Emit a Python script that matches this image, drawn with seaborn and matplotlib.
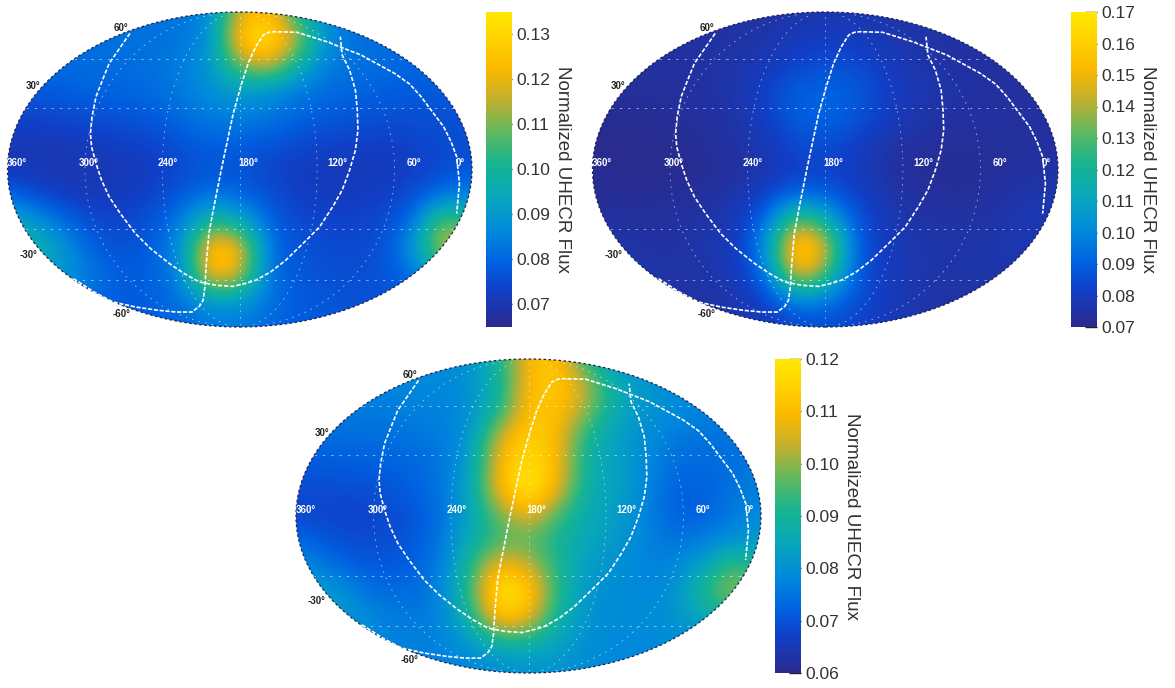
import numpy as np
import matplotlib
matplotlib.use("Agg")
import matplotlib.pyplot as plt
from matplotlib.patches import Ellipse
import seaborn as sns

#-------------------------------------------------------------------------------
#   values
#-------------------------------------------------------------------------------
parula_stops = [(0.0, "#2b2a8c"), (0.12, "#1040c8"), (0.2, "#0060e0"), (0.3, "#0088dc"),
                (0.42, "#08a8b8"), (0.52, "#18b490"), (0.62, "#60b860"), (0.72, "#c0b030"),
                (0.82, "#fbb800"), (0.92, "#ffd400"), (1.0, "#ffe800")]

lon_labels = ["360°", "300°", "240°", "180°", "120°", "60°", "0°"]
lon_label_x = [-0.96, -0.65, -0.31, 0.035, 0.42, 0.75, 0.95]
lat_labels = ["60°", "30°", "-30°", "-60°"]
lat_label_x = [-0.51, -0.89, -0.91, -0.51]
lat_label_y = [0.90, 0.53, -0.54, -0.92]

meridian_fracs = [-2/3, -1/3, 0, 1/3, 2/3]
parallel_y = [0.39, 0.70, -0.38, -0.70]

plane_x = [-0.716, -0.627, -0.546, -0.449, -0.352, -0.271, -0.206, -0.174, -0.158, -0.150, -0.145,
           -0.133, -0.117, -0.077, -0.028, 0.004, 0.036, 0.069, 0.101, 0.125, 0.150, 0.247, 0.376,
           0.522, 0.667, 0.732, 0.781, 0.878, 0.910, 0.934, 0.946, 0.934]
plane_y = [-0.693, -0.778, -0.841, -0.873, -0.894, -0.905, -0.905, -0.869, -0.831, -0.746, -0.619,
           -0.407, -0.280, 0.017, 0.356, 0.525, 0.674, 0.780, 0.854, 0.871, 0.875, 0.871, 0.811,
           0.727, 0.610, 0.542, 0.462, 0.271, 0.176, 0.081, -0.089, -0.280]

loop_x = [-0.473, -0.562, -0.591, -0.619, -0.636, -0.643, -0.638, -0.619, -0.595, -0.562, -0.514,
          -0.449, -0.384, -0.303, -0.239, -0.174, -0.101, -0.028, 0.020, 0.069, 0.133, 0.198, 0.279,
          0.344, 0.400, 0.441, 0.473, 0.498, 0.509, 0.506, 0.498, 0.473, 0.441, 0.433]
loop_y = [0.864, 0.674, 0.568, 0.462, 0.335, 0.229, 0.144, 0.038, -0.068, -0.174, -0.280,
          -0.407, -0.502, -0.597, -0.661, -0.714, -0.735, -0.742, -0.725, -0.703, -0.650, -0.576, -0.460,
          -0.364, -0.237, -0.131, -0.004, 0.123, 0.250, 0.377, 0.504, 0.631, 0.727, 0.843]

flux_a = [
    [.082, .082, .082, .082, .082, .082, .082, .086, .118, .125, .097, .085, .082, .082, .082, .082, .082],
    [.082, .082, .082, .082, .082, .082, .083, .087, .130, .135, .115, .086, .082, .081, .081, .081, .081],
    [.081, .081, .081, .081, .081, .082, .084, .089, .112, .121, .098, .084, .082, .081, .080, .080, .080],
    [.078, .078, .079, .080, .080, .081, .084, .088, .091, .088, .083, .081, .080, .079, .078, .078, .078],
    [.074, .074, .075, .076, .077, .078, .081, .084, .085, .083, .080, .078, .077, .076, .076, .076, .077],
    [.071, .071, .071, .072, .073, .074, .077, .079, .079, .077, .075, .074, .073, .073, .074, .075, .076],
    [.071, .070, .070, .070, .071, .072, .075, .077, .076, .074, .072, .071, .071, .071, .073, .075, .077],
    [.080, .075, .072, .071, .072, .074, .078, .082, .080, .076, .073, .072, .072, .073, .076, .082, .085],
    [.096, .090, .080, .075, .074, .077, .084, .103, .095, .079, .075, .074, .074, .075, .082, .114, .100],
    [.100, .098, .088, .078, .076, .079, .087, .131, .124, .080, .077, .075, .075, .076, .090, .122, .105],
    [.094, .094, .090, .082, .078, .079, .085, .128, .118, .080, .078, .076, .076, .077, .081, .095, .092],
    [.087, .087, .084, .080, .078, .079, .082, .090, .090, .082, .078, .077, .076, .076, .077, .078, .080],
    [.082, .082, .082, .080, .079, .078, .080, .083, .083, .080, .078, .078, .077, .077, .077, .078, .078],
]
flux_b = [
    [.075, .075, .075, .075, .075, .075, .075, .076, .077, .077, .076, .075, .075, .075, .075, .075, .075],
    [.075, .075, .075, .075, .075, .075, .076, .079, .080, .080, .078, .076, .075, .075, .075, .075, .075],
    [.074, .074, .074, .074, .075, .076, .079, .083, .086, .085, .080, .077, .075, .074, .074, .074, .074],
    [.073, .073, .073, .074, .075, .077, .083, .090, .091, .090, .082, .078, .076, .075, .074, .074, .074],
    [.072, .072, .072, .073, .074, .076, .082, .090, .092, .088, .081, .077, .075, .074, .074, .074, .074],
    [.071, .071, .071, .072, .073, .075, .079, .085, .086, .082, .077, .074, .073, .073, .073, .074, .074],
    [.071, .071, .071, .071, .072, .074, .077, .081, .082, .080, .075, .072, .072, .072, .073, .074, .075],
    [.072, .072, .072, .073, .074, .077, .083, .092, .090, .083, .077, .074, .073, .073, .075, .077, .077],
    [.075, .074, .074, .074, .076, .079, .094, .140, .118, .088, .079, .076, .075, .075, .076, .078, .078],
    [.076, .076, .075, .075, .077, .080, .105, .172, .150, .090, .080, .077, .076, .076, .077, .078, .078],
    [.076, .076, .076, .075, .076, .079, .094, .155, .130, .088, .080, .077, .076, .076, .076, .077, .077],
    [.075, .075, .075, .075, .075, .077, .083, .098, .095, .087, .080, .077, .075, .075, .075, .075, .075],
    [.075, .075, .075, .075, .075, .076, .079, .083, .085, .082, .079, .077, .075, .075, .075, .075, .075],
]
flux_c = [
    [.078, .078, .078, .078, .078, .079, .080, .090, .110, .113, .090, .082, .080, .078, .078, .078, .078],
    [.077, .077, .077, .078, .078, .078, .080, .088, .111, .114, .104, .086, .081, .079, .078, .078, .077],
    [.076, .076, .076, .076, .077, .077, .079, .091, .112, .112, .100, .086, .081, .079, .077, .076, .076],
    [.073, .074, .074, .074, .075, .076, .080, .106, .115, .110, .090, .083, .079, .076, .075, .075, .076],
    [.071, .071, .072, .072, .073, .075, .082, .110, .119, .110, .088, .084, .079, .074, .073, .074, .076],
    [.069, .069, .069, .070, .072, .075, .084, .110, .122, .108, .087, .084, .078, .072, .072, .075, .077],
    [.068, .068, .067, .068, .070, .074, .084, .097, .108, .094, .086, .083, .078, .072, .072, .076, .079],
    [.074, .071, .069, .069, .071, .075, .087, .095, .096, .090, .085, .082, .077, .075, .077, .080, .082],
    [.080, .076, .072, .071, .072, .076, .092, .113, .106, .092, .082, .080, .077, .078, .084, .098, .092],
    [.086, .083, .078, .074, .074, .077, .094, .122, .116, .092, .081, .079, .078, .080, .092, .102, .092],
    [.085, .085, .080, .077, .076, .077, .088, .112, .107, .088, .080, .079, .079, .080, .083, .087, .085],
    [.080, .080, .080, .078, .077, .077, .080, .085, .086, .083, .080, .078, .078, .079, .080, .080, .080],
    [.078, .078, .078, .078, .077, .077, .078, .079, .080, .080, .079, .078, .078, .078, .078, .078, .078],
]

ticks_a = [0.07, 0.08, 0.09, 0.10, 0.11, 0.12, 0.13]
ticks_b = [0.07, 0.08, 0.09, 0.10, 0.11, 0.12, 0.13, 0.14, 0.15, 0.16, 0.17]
ticks_c = [0.06, 0.07, 0.08, 0.09, 0.10, 0.11, 0.12]
range_a = (0.0649, 0.1349)
range_b = (0.07, 0.17)
range_c = (0.06, 0.12)

W, H = 1175, 688


def px_axes(fig, left, top, right, bottom):
    # axes placed with picture pixels
    return fig.add_axes([left/W, 1 - bottom/H, (right - left)/W, (bottom - top)/H])


def draw_panel(fig, flux, vrange, ticks, map_box, bar_box, cmap):
    ax = px_axes(fig, *map_box)
    grid = np.array(flux)
    dx = 2 / (grid.shape[1] - 1)
    dy = 2 / (grid.shape[0] - 1)
    im = ax.imshow(grid, cmap=cmap, vmin=vrange[0], vmax=vrange[1], aspect="auto",
                   interpolation="bicubic",
                   extent=[-1 - dx/2, 1 + dx/2, -1 - dy/2, 1 + dy/2])
    outline = Ellipse((0, 0), 2, 2, transform=ax.transData, fc="none", ec="none")
    ax.add_patch(outline)
    im.set_clip_path(outline)

    # grid of the sky map
    t = np.linspace(-0.985, 0.985, 90)
    for frac in meridian_fracs:
        ax.plot(frac*np.sqrt(1 - t**2), t, color="white", lw=0.6, ls=(0, (2, 6)), alpha=0.6)
    for y0 in parallel_y:
        half = np.sqrt(1 - y0**2)
        ax.plot([-half, half], [y0, y0], color="white", lw=0.6, ls=(0, (3, 7)), alpha=0.6)

    sns.lineplot(x=plane_x, y=plane_y, sort=False, estimator=None, color="white",
                 lw=1.2, ls=(0, (2.5, 1)), ax=ax)
    sns.lineplot(x=loop_x, y=loop_y, sort=False, estimator=None, color="white",
                 lw=1.2, ls=(0, (2.5, 1.2)), ax=ax)

    ax.add_patch(Ellipse((0, 0), 2, 2, fc="none", ec="#20204a", lw=0.9, ls=(0, (2, 2)), clip_on=False))

    for lab, xp in zip(lon_labels, lon_label_x):
        ax.text(xp, 0.04, lab, color="white", fontsize=7, ha="center", va="center", fontweight="bold")
    for lab, xp, yp in zip(lat_labels, lat_label_x, lat_label_y):
        ax.text(xp, yp, lab, color="#222222", fontsize=7, ha="center", va="center", fontweight="bold")

    ax.set_xlim(-1, 1)
    ax.set_ylim(-1, 1)
    ax.axis("off")

    cax = px_axes(fig, *bar_box)
    cb = fig.colorbar(im, cax=cax, ticks=ticks)
    cb.outline.set_visible(False)
    cb.ax.set_yticklabels(["{:.2f}".format(v) for v in ticks])
    cb.ax.tick_params(direction="in", length=9, width=1.0, color="#222222", labelsize=12.5,
                      labelcolor="#333333", pad=3, right=True, left=False)
    cb.set_label("Normalized UHECR Flux", rotation=270, fontsize=13.5, color="#333333", labelpad=15)


sns.set_theme(style="white")
plt.rcParams["font.family"] = ["Liberation Sans", "DejaVu Sans"]

parula = matplotlib.colors.LinearSegmentedColormap.from_list("parula_like", parula_stops)

fig = plt.figure(figsize=(W/100, H/100), dpi=100)
draw_panel(fig, flux_a, range_a, ticks_a, (7.5, 12, 472, 327), (486, 12, 512, 327), parula)
draw_panel(fig, flux_b, range_b, ticks_b, (592.5, 12, 1058, 327), (1071, 12, 1097, 327), parula)
draw_panel(fig, flux_c, range_c, ticks_c, (296, 359, 761, 673), (775, 359, 801, 673), parula)

fig.savefig("out.png", dpi=100)
